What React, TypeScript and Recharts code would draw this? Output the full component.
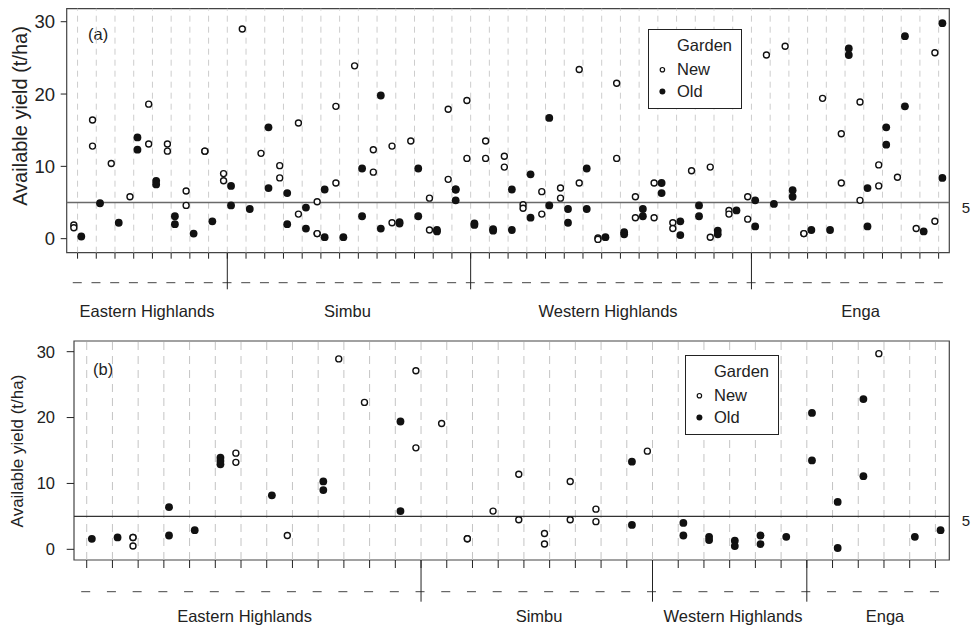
import {
  ScatterChart,
  Scatter,
  XAxis,
  YAxis,
  ReferenceLine,
  ReferenceArea,
  Legend,
} from 'recharts'

// Available yield (t/ha) per site; each inner list holds the gardens of one site.
// Panel (a)
const newA: number[][] = [
  [1.9, 1.5], [16.4, 12.8], [10.4], [5.8], [18.6, 13.1], [13.1, 12.1], [6.6, 4.6], [12.1, 12.1],
  [9.0, 8.0], [29.0], [11.8], [10.1, 8.4], [16.0, 3.4], [5.1, 0.7, 0.7], [18.3, 7.7], [23.9],
  [12.3, 9.2], [12.8, 2.2], [13.5], [5.6, 1.2], [17.9, 8.2], [19.1, 11.1], [13.5, 11.1], [11.4, 9.9],
  [4.7, 4.2], [6.5, 3.4], [7.0, 5.6], [23.4, 7.7], [0.1, -0.1], [21.5, 11.1], [5.8, 2.9], [7.7, 2.9],
  [2.2, 1.4], [9.4], [9.9, 0.2], [3.9, 3.4], [5.8, 2.7], [25.4], [26.6], [0.7, 0.7],
  [19.4], [14.5, 7.7], [18.9, 5.3], [10.2, 7.3], [8.5], [1.4], [25.7, 2.4],
]
const oldA: number[][] = [
  [0.3], [4.9], [2.2], [14.0, 12.3], [8.0, 7.5], [3.1, 2.0], [0.7], [2.4],
  [7.3, 4.6], [4.1], [15.4, 7.0], [6.3, 2.0], [4.3, 1.4], [6.8, 0.2], [0.2], [9.7, 3.1],
  [19.8, 1.4], [2.3, 2.1], [9.7, 3.1], [1.2, 1.0], [6.8, 6.8, 5.3], [2.1, 1.9], [1.3, 1.1], [6.8, 1.2],
  [8.9, 2.9], [16.7, 4.6], [4.1, 2.2], [9.7, 4.1], [0.2], [0.9, 0.6], [4.1, 3.1], [7.7, 6.3],
  [2.4, 0.5], [4.6, 3.1], [1.1, 0.6], [3.9], [5.3, 1.7], [4.8], [6.7, 5.8], [1.2],
  [1.2], [26.3, 25.4], [7.0, 1.7], [15.4, 13.0], [28.0, 18.3], [1.0], [29.8, 8.4],
]
const breaksA = [8, 21, 36]
const labelAtA = [3.71, 14.42, 28.34, 41.83]

// Panel (b)
const newB: number[][] = [
  [], [], [1.8, 1.8, 0.5], [], [], [], [14.6, 13.2], [], [2.1], [], [28.9], [22.3],
  [], [27.1, 15.4], [19.1], [1.6, 1.6], [5.8], [11.4, 4.5], [2.4, 0.8], [10.3, 4.5], [6.1, 4.2], [],
  [14.9], [], [], [], [], [], [], [], [], [29.7], [], [],
]
const oldB: number[][] = [
  [1.6], [1.8], [], [6.4, 2.1], [2.9], [13.9, 13.4, 12.9], [], [8.2], [], [10.3, 9.0], [], [],
  [19.4, 5.8], [], [], [], [], [], [], [], [], [13.3, 3.7],
  [], [4.0, 2.1], [1.9, 1.4], [1.3, 0.5], [2.1, 0.8], [1.9], [20.7, 13.5], [7.2, 0.2], [22.8, 11.1], [], [1.9], [2.9],
]
const breaksB = [13, 22, 28]
const labelAtB = [6.14, 17.59, 25.13, 31.04]

const provinces = ['Eastern Highlands', 'Simbu', 'Western Highlands', 'Enga']
const gardens = ['New', 'Old']
const yTicks = [0, 10, 20, 30]
const threshold = 5

const FONT = '"Liberation Sans", Arial, sans-serif'
const INK = '#222'
const WIDTH = 973

type Panel = {
  letter: string
  height: number
  top: number
  left: number
  right: number
  xDomain: [number, number]
  yDomain: [number, number]
  newRows: number[][]
  oldRows: number[][]
  breaks: number[]
  labelAt: number[]
  siteAxisH: number
  groupAxisH: number
  siteTick: number
  yTickSize: number
  yTickMargin: number
  yTickFont: number
  yLabel: { x: number; y: number; size: number }
  breakDown: number
  labelDy: number
  dash: [number, number]
  gridDash: string
  gridStroke: string
  refStroke: string
  refWidth: number
  legend: { left: number; top: number }
  letterAt: { x: number; y: number }
  fiveDy: number
}

const panels: Panel[] = [
  {
    letter: '(a)', height: 325, top: 8.7, left: 66.7, right: 23.7,
    xDomain: [-0.58, 46.57], yDomain: [-1.94, 31.8],
    newRows: newA, oldRows: oldA, breaks: breaksA, labelAt: labelAtA,
    siteAxisH: 30, groupAxisH: 42.3, siteTick: 6,
    yTickSize: 6, yTickMargin: 5.7, yTickFont: 18.5,
    yLabel: { x: 19.5, y: 116, size: 20 },
    breakDown: 6.6, labelDy: 34.6, dash: [-4.8, 4.2],
    gridDash: '6 5', gridStroke: '#cdcdcd', refStroke: '#6a6a6a', refWidth: 1.5,
    legend: { left: 648, top: 29 }, letterAt: { x: 88, y: 40 }, fiveDy: 5,
  },
  {
    letter: '(b)', height: 302, top: 16, left: 74, right: 23.7,
    xDomain: [-0.494, 33.54], yDomain: [-1.62, 31.62],
    newRows: newB, oldRows: oldB, breaks: breaksB, labelAt: labelAtB,
    siteAxisH: 31.7, groupAxisH: 35.3, siteTick: 8,
    yTickSize: 7.3, yTickMargin: 11.7, yTickFont: 16.5,
    yLabel: { x: 17.5, y: 451 - 325, size: 17 },
    breakDown: 10, labelDy: 30, dash: [-5.5, 3.5],
    gridDash: '8 6', gridStroke: '#c4c4c4', refStroke: '#333', refWidth: 1.1,
    legend: { left: 685, top: 355 - 325 }, letterAt: { x: 93, y: 375 - 325 }, fiveDy: 4,
  },
]

const toPoints = (rows: number[][], shift: number) =>
  rows.flatMap((ys, site) => ys.map((y) => ({ x: site + shift, y })))

const openDot = (p: any) => (
  <circle cx={p.cx} cy={p.cy} r={3} fill="#fff" stroke="#111" strokeWidth={1.4} />
)
const solidDot = (p: any) => <circle cx={p.cx} cy={p.cy} r={3.9} fill="#111" />

function GardenKey() {
  return (
    <svg width={94} height={80} style={{ display: 'block', fontFamily: FONT }}>
      <rect x={0.5} y={0.5} width={93} height={79} fill="#fff" stroke="#222" />
      <text x={29} y={22.4} fontSize={16.5} fill={INK}>Garden</text>
      {gardens.map((g, i) => (
        <g key={g}>
          {i === 0 ? (
            <circle cx={14.4} cy={40.7} r={2.2} fill="#fff" stroke="#111" strokeWidth={1.2} />
          ) : (
            <circle cx={14.4} cy={62.6} r={3} fill="#111" />
          )}
          <text x={29} y={45.7 + i * 21.8} fontSize={16.5} fill={INK}>{g}</text>
        </g>
      ))}
    </svg>
  )
}

function YieldPanel({ cfg }: { cfg: Panel }) {
  const siteTicks = Array.from({ length: cfg.newRows.length }, (_, i) => i)

  // Sites get a short tick and one dash of the province rule; the province
  // breaks get a long tick, and the label positions carry the province names.
  const SiteTick = ({ x, y, payload }: any) => {
    const v = payload.value
    const ruleY = y + cfg.siteAxisH
    if (Number.isInteger(v)) {
      return (
        <g>
          <line x1={x} x2={x} y1={y} y2={y + cfg.siteTick} stroke={INK} strokeWidth={1} />
          <line x1={x + cfg.dash[0]} x2={x + cfg.dash[1]} y1={ruleY} y2={ruleY} stroke="#444" strokeWidth={1} />
          {cfg.breaks.includes(v) && (
            <line x1={x} x2={x} y1={y} y2={ruleY + cfg.breakDown} stroke={INK} strokeWidth={1} />
          )}
        </g>
      )
    }
    const k = cfg.labelAt.indexOf(v)
    return (
      <text x={x} y={ruleY + cfg.labelDy} textAnchor="middle" fontSize={16.5} fill={INK}>
        {provinces[k]}
      </text>
    )
  }

  return (
    <ScatterChart
      width={WIDTH}
      height={cfg.height}
      margin={{ top: cfg.top, right: 0, bottom: 0, left: 0 }}
      style={{ fontFamily: FONT }}
    >
      <XAxis
        xAxisId="site" type="number" dataKey="x" domain={cfg.xDomain} allowDataOverflow
        ticks={[...siteTicks, ...cfg.labelAt]} interval={0} tick={SiteTick}
        tickLine={false} tickSize={0} tickMargin={0} axisLine={false}
        height={cfg.siteAxisH + cfg.groupAxisH}
      />
      <YAxis
        yAxisId="y" type="number" dataKey="y" domain={cfg.yDomain} allowDataOverflow
        ticks={yTicks} interval={0} width={cfg.left} tickSize={cfg.yTickSize} tickMargin={cfg.yTickMargin}
        tick={{ fontSize: cfg.yTickFont, fill: INK }} tickLine={{ stroke: INK }} axisLine={false}
      />
      <YAxis
        yAxisId="ref" orientation="right" type="number" domain={cfg.yDomain} allowDataOverflow
        ticks={[threshold]} interval={0} width={cfg.right} tickSize={0} tickMargin={12.4}
        tickLine={false} axisLine={false}
        tick={({ x, y, payload }: any) => (
          <text x={x} y={y + cfg.fiveDy} dy="0.355em" fontSize={15} fill={INK}>{payload.value}</text>
        )}
      />
      {siteTicks.map((s) => (
        <ReferenceLine
          key={s} xAxisId="site" yAxisId="y" x={s}
          stroke={cfg.gridStroke} strokeDasharray={cfg.gridDash}
        />
      ))}
      <ReferenceLine xAxisId="site" yAxisId="y" y={threshold} stroke={cfg.refStroke} strokeWidth={cfg.refWidth} />
      <ReferenceArea
        xAxisId="site" yAxisId="y"
        x1={cfg.xDomain[0]} x2={cfg.xDomain[1]} y1={cfg.yDomain[0]} y2={cfg.yDomain[1]}
        fill="none" stroke="#444" strokeWidth={1.2}
      />
      <Scatter
        name="New" xAxisId="site" yAxisId="y" data={toPoints(cfg.newRows, -0.2)}
        shape={openDot} isAnimationActive={false}
      />
      <Scatter
        name="Old" xAxisId="site" yAxisId="y" data={toPoints(cfg.oldRows, 0.2)}
        shape={solidDot} isAnimationActive={false}
      />
      <Legend
        layout="vertical" align="center" verticalAlign="middle"
        wrapperStyle={{ left: cfg.legend.left, top: cfg.legend.top, width: 94, height: 80 }}
        content={() => <GardenKey />}
      />
      <text x={cfg.letterAt.x} y={cfg.letterAt.y} fontSize={16.5} fill={INK}>{cfg.letter}</text>
      <text
        x={cfg.yLabel.x} y={cfg.yLabel.y} fontSize={cfg.yLabel.size} fill={INK}
        textAnchor="middle" dominantBaseline="central"
        transform={`rotate(-90 ${cfg.yLabel.x} ${cfg.yLabel.y})`}
      >
        Available yield (t/ha)
      </text>
    </ScatterChart>
  )
}

export default function App() {
  return (
    <div style={{ position: 'absolute', left: 0, top: 0, width: WIDTH, background: '#fff', fontFamily: FONT }}>
      {panels.map((p) => (
        <YieldPanel key={p.letter} cfg={p} />
      ))}
    </div>
  )
}
